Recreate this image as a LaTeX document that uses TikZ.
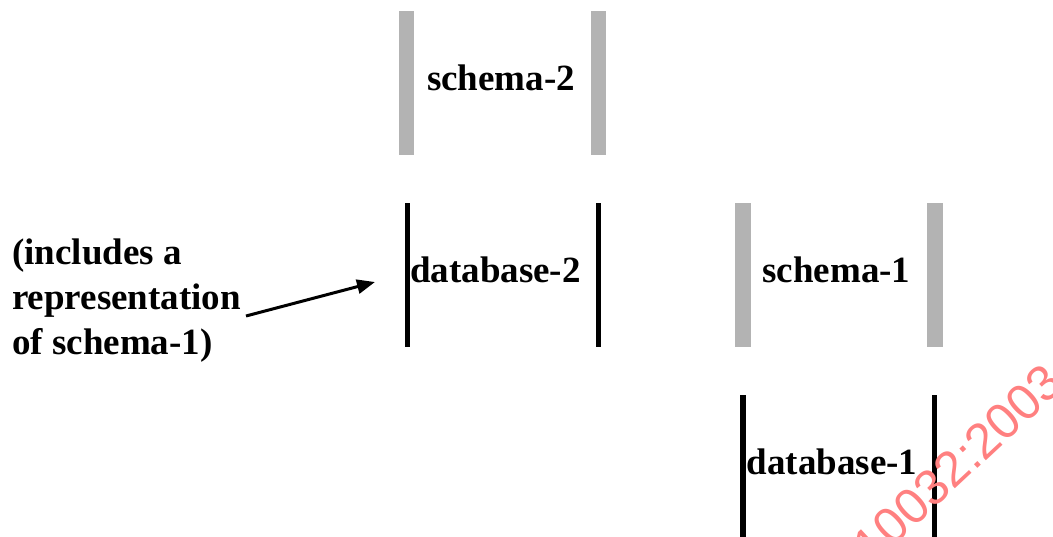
\documentclass[tikz,border=0pt]{standalone}
\usepackage{fontspec}
\setmainfont{Liberation Serif}
\newfontfamily\wmfont{Liberation Sans}
\usetikzlibrary{arrows.meta}
\definecolor{bargray}{RGB}{179,179,179}
\definecolor{wmred}{RGB}{255,128,128}
\begin{document}
\begin{tikzpicture}[x=1pt,y=-1pt,
  lbl/.style={font=\bfseries\fontsize{37}{45}\selectfont, inner sep=0pt},
  frame/.style={minimum width=#1, minimum height=144pt, inner sep=0pt},
  graybar/.style={fill=bargray},
  blackbar/.style={fill=black},
  arrowline/.style={line width=3pt, -{Triangle[length=18pt,width=14pt]}},
  wm/.style={font=\wmfont\fontsize{50}{50}\selectfont, text=wmred, inner sep=0pt}]
\useasboundingbox (0,0) rectangle (1053,536);
\clip (0,0) rectangle (1053,536);

% schema-2 (gray bars)
\node[frame=207pt] (s2) at (502.5,83) {};
\fill[graybar] (s2.north west) rectangle ([xshift=15pt]s2.south west);
\fill[graybar] (s2.north east) rectangle ([xshift=-15pt]s2.south east);
\node[lbl] (s2t) at (501,78) {schema-2};

% database-2 (black bars)
\node[frame=196pt] (d2) at (503,275) {};
\fill[blackbar] (d2.north west) rectangle ([xshift=5pt]d2.south west);
\fill[blackbar] (d2.north east) rectangle ([xshift=-5pt]d2.south east);
\node[lbl] (d2t) at (495.5,270) {database-2};

% schema-1 (gray bars)
\node[frame=208pt] (s1) at (839,275) {};
\fill[graybar] (s1.north west) rectangle ([xshift=16pt]s1.south west);
\fill[graybar] (s1.north east) rectangle ([xshift=-16pt]s1.south east);
\node[lbl] (s1t) at (836.5,270) {schema-1};

% database-1 (black bars)
\node[frame=197pt, minimum height=160pt] (d1) at (838.5,475) {};
\fill[blackbar] (d1.north west) rectangle ([xshift=6pt]d1.south west);
\fill[blackbar] (d1.north east) rectangle ([xshift=-5pt]d1.south east);
\node[lbl] (d1t) at (832,462) {database-1};

% note with arrow
\node[lbl, align=left, anchor=north west] (note) at (12,239)
  {(includes a\\representation\\of schema-1)};
\coordinate (from) at (246,316);
\coordinate (tip) at (375,282);
\draw[arrowline] (from) -- (tip);

% watermark
\node[wm, rotate=43, anchor=base east] (wmark) at (1066,386) {ISO/IEC 10032:2003};
\end{tikzpicture}
\end{document}
